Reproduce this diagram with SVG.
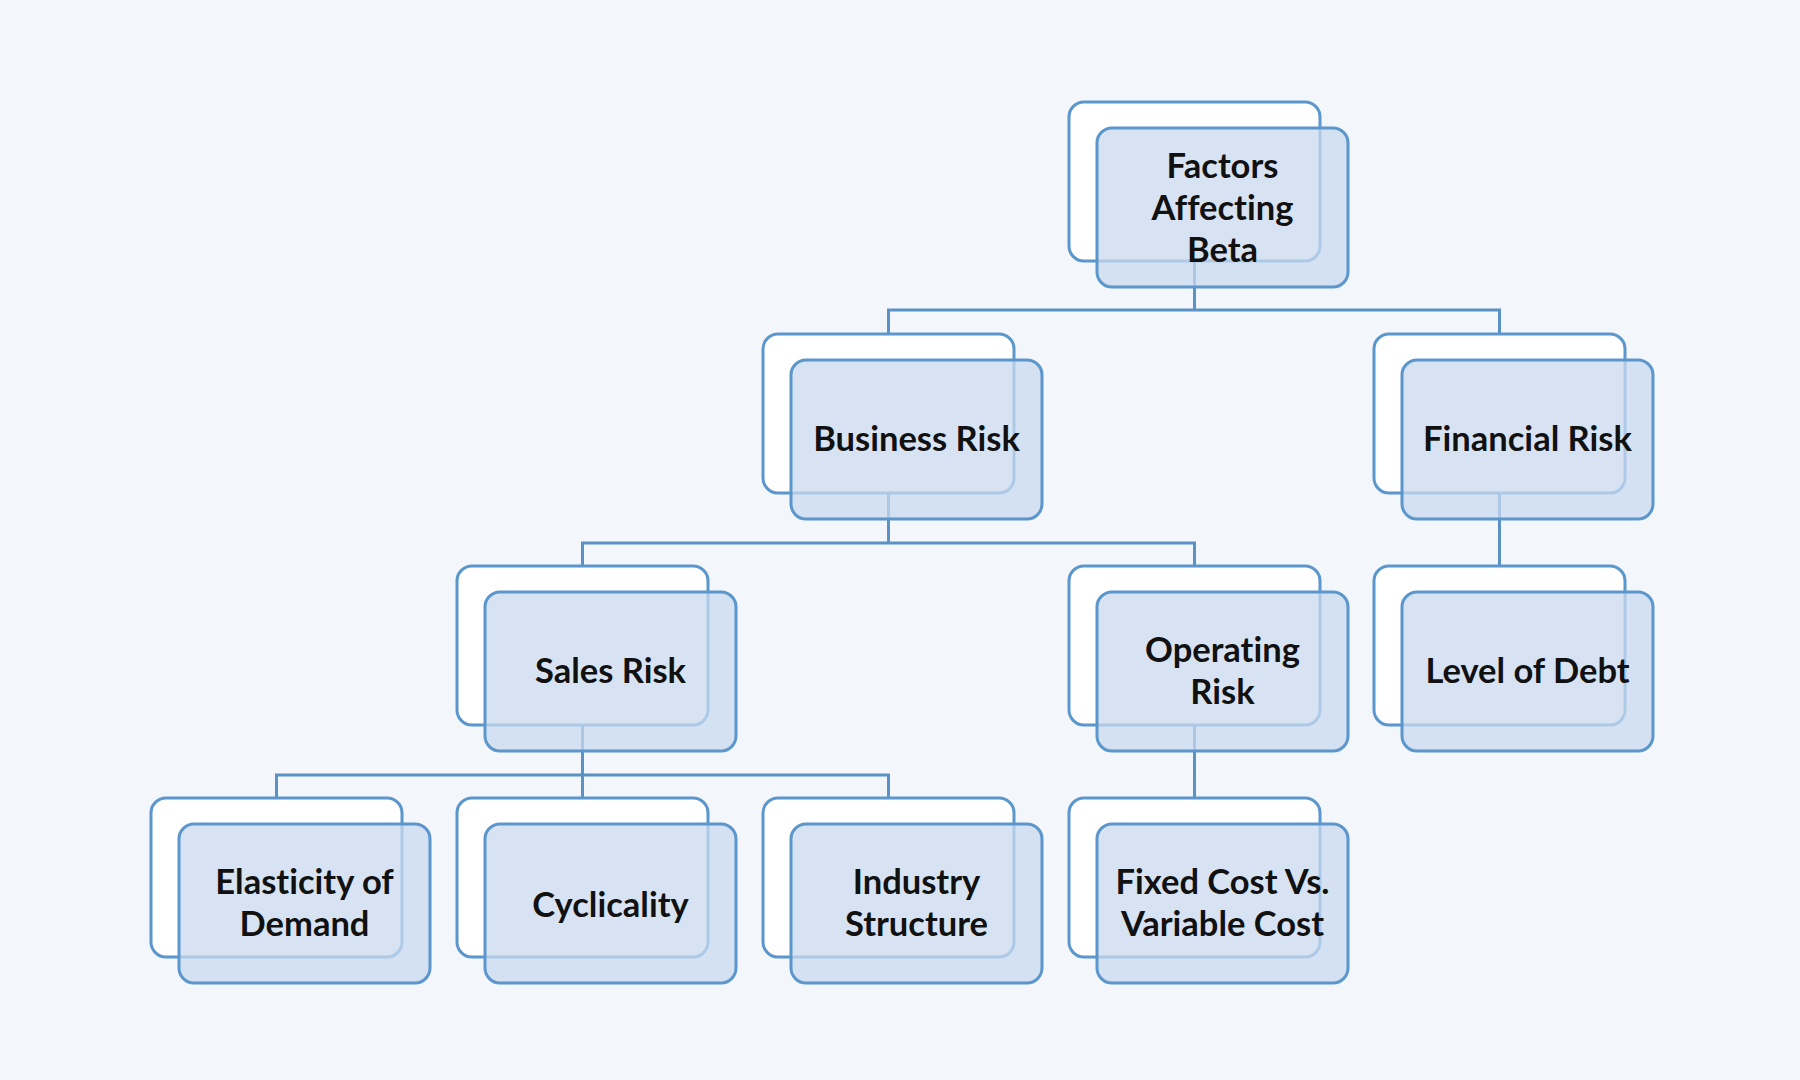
<svg xmlns="http://www.w3.org/2000/svg" width="1800" height="1080" viewBox="0 0 1800 1080">
<style>
.bg{fill:#f3f7fb}
.back{fill:#ffffff;stroke:#5b96cc;stroke-width:3}
.front{fill:#c9d9ef;fill-opacity:0.75;stroke:#5b96cc;stroke-width:3}
.conn{fill:none;stroke:#5a92c6;stroke-width:3}
text{font-family:Lato,"Liberation Sans",sans-serif;font-weight:bold;font-size:34.5px;fill:#111;text-anchor:middle;dominant-baseline:central;font-variant-ligatures:none}
</style>
<defs>
<rect id="b" width="251" height="159" rx="15" class="back"/>
<rect id="f" x="28" y="26" width="251" height="159" rx="15" class="front"/>
</defs>
<rect class="bg" width="1800" height="1080"/>
<g id="connectors" class="conn">
<path d="M1194.5 261V310M888.5 335V310H1499.5V335"/>
<path d="M888.5 493V543M582.5 567V543H1194.5V567"/>
<path d="M1499.5 493V567"/>
<path d="M582.5 725V775M276.5 799V775H888.5V799M582.5 775V799"/>
<path d="M1194.5 725V799"/>
</g>
<g id="n-beta" transform="translate(1069,102)"><use href="#b"/><use href="#f"/><text x="153.5" y="62">Factors</text><text x="153.5" y="104">Affecting</text><text x="153.5" y="146">Beta</text></g>
<g id="n-business" transform="translate(763,334)"><use href="#b"/><use href="#f"/><text x="153.5" y="103">Business Risk</text></g>
<g id="n-financial" transform="translate(1374,334)"><use href="#b"/><use href="#f"/><text x="153.5" y="103">Financial Risk</text></g>
<g id="n-sales" transform="translate(457,566)"><use href="#b"/><use href="#f"/><text x="153.5" y="103">Sales Risk</text></g>
<g id="n-operating" transform="translate(1069,566)"><use href="#b"/><use href="#f"/><text x="153.5" y="82">Operating</text><text x="153.5" y="124">Risk</text></g>
<g id="n-debt" transform="translate(1374,566)"><use href="#b"/><use href="#f"/><text x="153.5" y="103">Level of Debt</text></g>
<g id="n-elasticity" transform="translate(151,798)"><use href="#b"/><use href="#f"/><text x="153.5" y="82">Elasticity of</text><text x="153.5" y="124">Demand</text></g>
<g id="n-cyclicality" transform="translate(457,798)"><use href="#b"/><use href="#f"/><text x="153.5" y="105">Cyclicality</text></g>
<g id="n-industry" transform="translate(763,798)"><use href="#b"/><use href="#f"/><text x="153.5" y="82">Industry</text><text x="153.5" y="124">Structure</text></g>
<g id="n-fixed" transform="translate(1069,798)"><use href="#b"/><use href="#f"/><text x="153.5" y="82">Fixed Cost Vs.</text><text x="153.5" y="124">Variable Cost</text></g>
</svg>
